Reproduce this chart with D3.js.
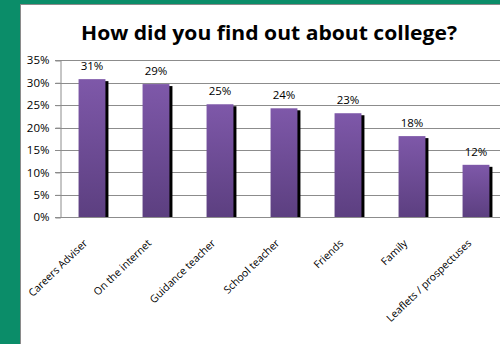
<!DOCTYPE html>
<html><head><meta charset="utf-8">
<script src="https://cdn.jsdelivr.net/npm/d3@7"></script>
<style>
html,body{margin:0;padding:0;background:#0b8d69;overflow:hidden}
svg{display:block}
text{font-family:"Open Sans","Liberation Sans",sans-serif}
</style></head>
<body>
<svg id="c" width="500" height="344"></svg>
<script>
const categories = ["Careers Adviser","On the internet","Guidance teacher","School teacher","Friends","Family","Leaflets / prospectuses"];
const values = [30.8, 29.7, 25.2, 24.3, 23.2, 18.1, 11.7];
const valueLabels = ["31%","29%","25%","24%","23%","18%","12%"];
const yTicks = [0,5,10,15,20,25,30,35];
const title = "How did you find out about college?";

const svg = d3.select("#c");
svg.append("rect").attr("x",20.5).attr("y",4.5).attr("width",490).attr("height",350)
  .attr("fill","#fff").attr("stroke","#8a8a8a").attr("stroke-width",1);

const defs = svg.append("defs");
const g = defs.append("linearGradient").attr("id","bg").attr("x1",0).attr("y1",0).attr("x2",0).attr("y2",1);
g.append("stop").attr("offset","0%").attr("stop-color","#7e58a9");
g.append("stop").attr("offset","100%").attr("stop-color","#5c3f80");

const x = d3.scaleBand().domain(categories).range([60,508]).paddingInner(0.58).paddingOuter(0.29);
const y = d3.scaleLinear().domain([0,35]).range([217.3,60.3]);

svg.append("g").selectAll("line").data(yTicks).join("line")
  .attr("x1",55).attr("x2",510).attr("y1",d=>Math.round(y(d))+0.5).attr("y2",d=>Math.round(y(d))+0.5)
  .attr("stroke","#8c8c8c").attr("stroke-width",1);
const yAxis = d3.axisLeft(y).tickValues(yTicks).tickFormat(d=>d+"%").tickSize(5).tickPadding(6);
const ya = svg.append("g").attr("transform","translate(60.5,0)").call(yAxis);
ya.select(".domain").attr("stroke","#8c8c8c");
ya.selectAll(".tick line").attr("stroke","#8c8c8c");
ya.selectAll(".tick text").attr("font-size",11.5).attr("fill","#000").attr("font-family","'Open Sans',sans-serif");

svg.append("g").selectAll("rect").data(values).join("rect")
  .attr("x",(d,i)=>x(categories[i])+3).attr("y",d=>y(d)+2)
  .attr("width",x.bandwidth()).attr("height",d=>y(0)-y(d)-2).attr("fill","#000");
svg.append("g").selectAll("rect").data(values).join("rect")
  .attr("x",(d,i)=>x(categories[i])).attr("y",d=>y(d))
  .attr("width",x.bandwidth()).attr("height",d=>y(0)-y(d)).attr("fill","url(#bg)");
svg.append("g").selectAll("text").data(values).join("text")
  .attr("x",(d,i)=>x(categories[i])+x.bandwidth()/2).attr("y",d=>y(d)-9)
  .attr("text-anchor","middle").attr("font-size",11.5).attr("fill","#000")
  .text((d,i)=>valueLabels[i]);

svg.append("line").attr("x1",60).attr("x2",510).attr("y1",Math.round(y(0))+0.5).attr("y2",Math.round(y(0))+0.5)
  .attr("stroke","#8c8c8c");

svg.append("g").selectAll("text").data(categories).join("text")
  .attr("transform",d=>`translate(${x(d)+x.bandwidth()/2-4},244) rotate(-44)`)
  .attr("text-anchor","end").attr("font-size",10.5).attr("fill","#000")
  .text(d=>d);

svg.append("text").attr("x",269).attr("y",40).attr("text-anchor","middle")
  .attr("font-size",20).attr("font-weight","bold").attr("fill","#000")
  .attr("textLength",376).attr("lengthAdjust","spacingAndGlyphs").text(title);
svg.append("rect").attr("x",0).attr("y",0).attr("width",500).attr("height",4).attr("fill","#0b8d69");
</script>
</body></html>
